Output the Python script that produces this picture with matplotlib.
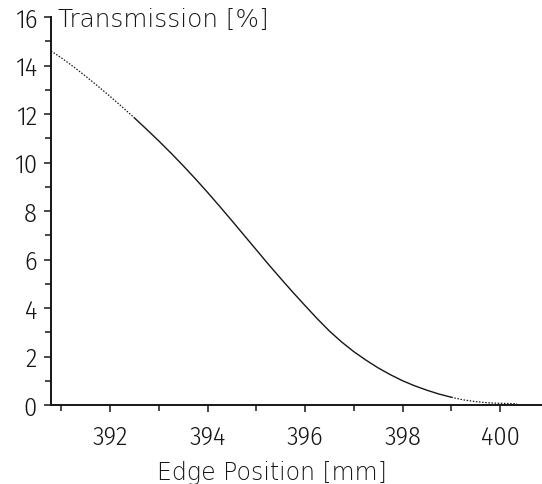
import numpy as np
import matplotlib
matplotlib.use("Agg")
import matplotlib.pyplot as plt
from matplotlib.ticker import MultipleLocator

# Data
edge_pos = [390.79, 391.0, 391.25, 391.5, 391.75, 392.0, 392.25, 392.5, 392.75, 393.0,
            393.25, 393.5, 393.75, 394.0, 394.25, 394.5, 394.75, 395.0, 395.25, 395.5,
            395.75, 396.0, 396.25, 396.5, 396.75, 397.0, 397.25, 397.5, 397.75, 398.0,
            398.25, 398.5, 398.75, 399.0, 399.25, 399.5, 399.75, 400.0, 400.35]
transmission = [14.6, 14.32, 13.95, 13.56, 13.15, 12.73, 12.29, 11.84, 11.37, 10.89,
                10.39, 9.87, 9.33, 8.77, 8.19, 7.6, 7.0, 6.4, 5.8, 5.22,
                4.65, 4.1, 3.56, 3.05, 2.6, 2.2, 1.85, 1.53, 1.25, 1.0,
                0.79, 0.61, 0.45, 0.32, 0.21, 0.14, 0.09, 0.07, 0.05]
x_major_ticks = [392, 394, 396, 398, 400]
y_major_ticks = [0, 2, 4, 6, 8, 10, 12, 14, 16]
x_label = "Edge Position [mm]"
y_label = "Transmission [%]"

W, H = 542, 485
fig = plt.figure(figsize=(W / 100, H / 100), dpi=100)
ax_left, ax_bottom, ax_top = 51, 406, 18
ax = fig.add_axes([ax_left / W, 1 - ax_bottom / H, 1 - ax_left / W, (ax_bottom - ax_top) / H])

x = np.array(edge_pos)
y = np.array(transmission)
ink = "#161616"
txt = "#161616"
m1 = x <= 392.5
m2 = (x >= 392.5) & (x <= 399.0)
m3 = x >= 399.0
ax.plot(x[m1], y[m1], color=ink, lw=0.9, ls=(0, (1.2, 1.3)))
ax.plot(x[m2], y[m2], color=ink, lw=1.0)
ax.plot(x[m3], y[m3], color=ink, lw=0.9, ls=(0, (1.2, 1.3)))

ax.set_xlim(390.79, 400.86)
ax.set_ylim(0, 16)
ax.set_xticks(x_major_ticks)
ax.set_yticks(y_major_ticks)
ax.xaxis.set_minor_locator(MultipleLocator(1))
ax.yaxis.set_minor_locator(MultipleLocator(1))
for s in ["top", "right"]:
    ax.spines[s].set_visible(False)
for s in ["left", "bottom"]:
    ax.spines[s].set_linewidth(1.4)
    ax.spines[s].set_color(ink)
ax.tick_params(which="major", length=5, width=1.1, color=ink)
ax.tick_params(which="minor", length=4, width=1.1, color=ink)
ax.tick_params(axis="x", which="major", pad=9)
ax.tick_params(axis="y", which="major", pad=5)
for lab in ax.get_xticklabels() + ax.get_yticklabels():
    lab.set_fontfamily("Fira Sans Condensed")
    lab.set_fontweight(300)
    lab.set_fontsize(19)
    lab.set_color(txt)

fig.text(58 / W, 1 - 20 / H, y_label, ha="left", va="center", fontsize=17.8,
         family="DejaVu Sans", fontweight=200, color=txt)
fig.text(272 / W, 1 - 480 / H, x_label, ha="center", va="baseline", fontsize=17,
         family="DejaVu Sans", fontweight=200, color=txt)

fig.savefig("out.png", dpi=100)
